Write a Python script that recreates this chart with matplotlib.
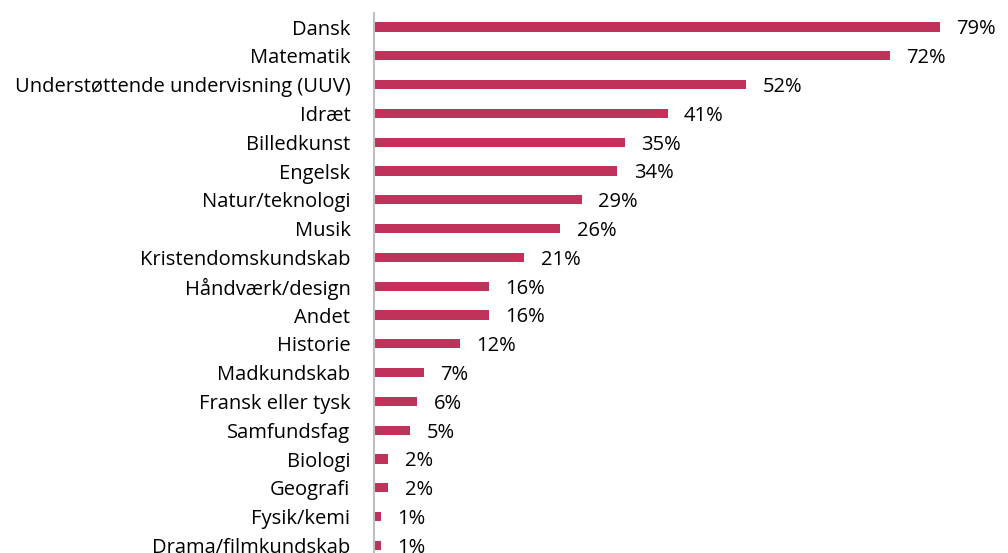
import matplotlib.pyplot as plt

subjects = ['Dansk', 'Matematik', 'Understøttende undervisning (UUV)', 'Idræt',
            'Billedkunst', 'Engelsk', 'Natur/teknologi', 'Musik',
            'Kristendomskundskab', 'Håndværk/design', 'Andet', 'Historie',
            'Madkundskab', 'Fransk eller tysk', 'Samfundsfag', 'Biologi',
            'Geografi', 'Fysik/kemi', 'Drama/filmkundskab']
shares = [79, 72, 52, 41, 35, 34, 29, 26, 21, 16, 16, 12, 7, 6, 5, 2, 2, 1, 1]

plt.rcParams['font.family'] = ['Open Sans', 'DejaVu Sans']

W, H = 1008, 553
fig = plt.figure(figsize=(W / 100, H / 100), dpi=100)
# axes box in pixels: left edge at the value axis, rows 28.8 px apart
left, top, row = 374, 12.6, 28.8
span = row * len(subjects)
ax = fig.add_axes([left / W, 1 - (top + span) / H, (1000 - left) / W, span / H])

pos = list(range(len(subjects)))
ax.barh(pos, shares, height=0.32, color='#C0325A')
for p, v in zip(pos, shares):
    ax.text(v + 2.3, p + 0.08, f'{v}%', va='center', ha='left', fontsize=14.5, color='black')

ax.set_xlim(0, (1000 - left) / 7.16)
ax.set_ylim(len(subjects) - 0.5, -0.5)
ax.set_yticks(pos)
ax.set_yticklabels(subjects, fontsize=14.5)
ax.tick_params(axis='y', length=0, pad=17)
ax.set_xticks([])
for s in ['top', 'right', 'bottom']:
    ax.spines[s].set_visible(False)
ax.spines['left'].set_color('#BFBFBF')
ax.spines['left'].set_linewidth(1.5)

fig.savefig('out.png', dpi=100)
